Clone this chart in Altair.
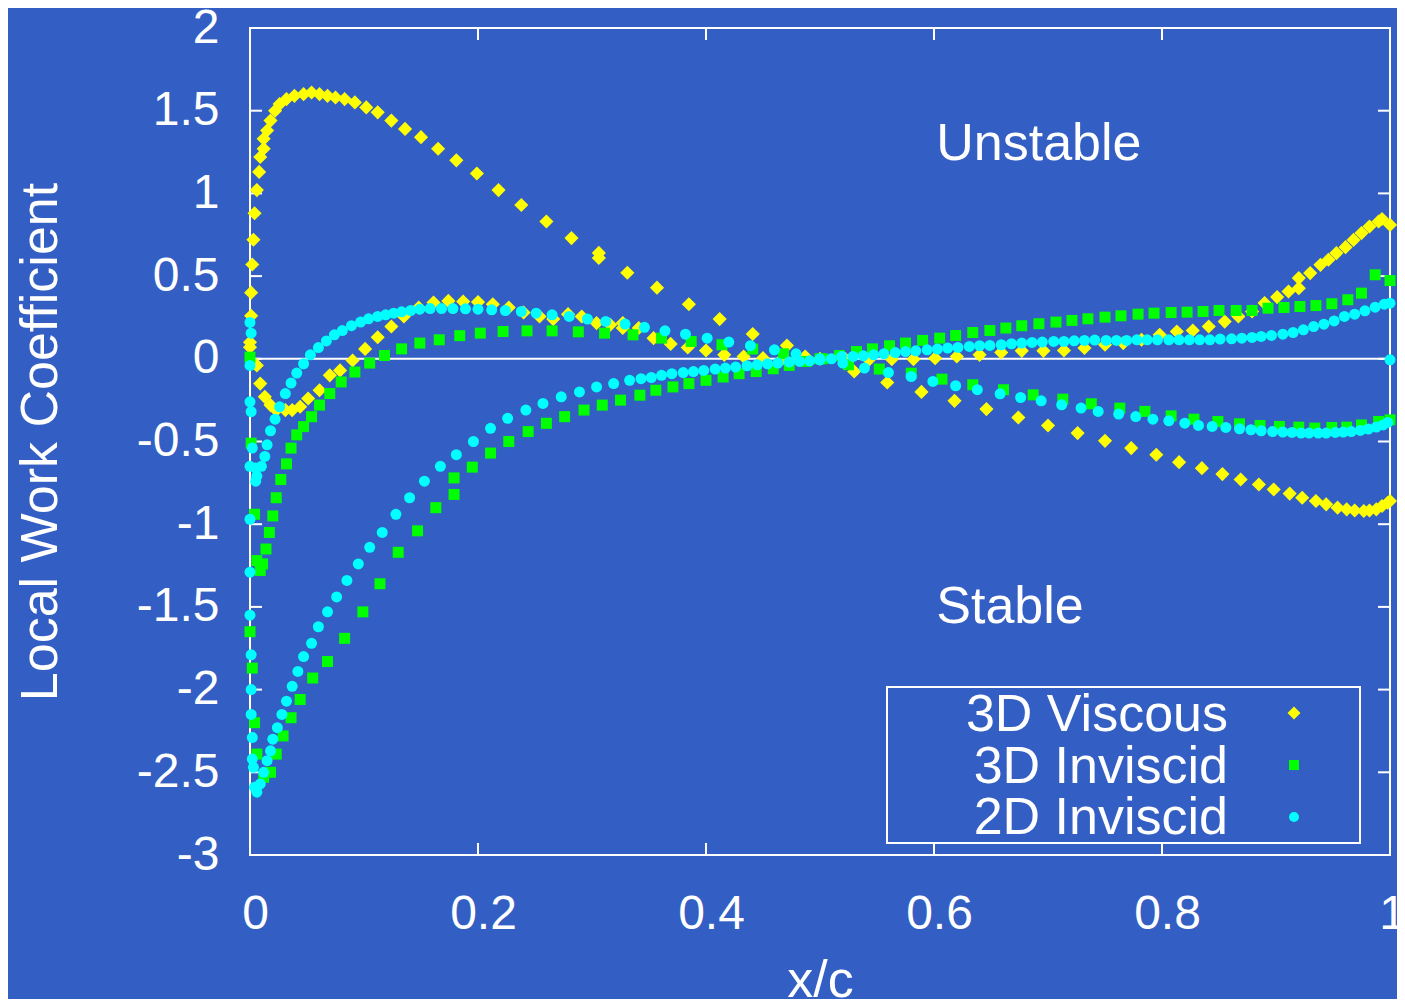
import altair as alt
import pandas as pd

FONT = "Liberation Sans"
BG = "#335ec3"
PLOT_W = 1140
PLOT_H = 827

# ---------------- data ----------------
# 3D Viscous (yellow diamonds)
visc_up_x = [0.0, 0.001, 0.001, 0.002, 0.003, 0.004, 0.006, 0.008, 0.009, 0.012, 0.012, 0.015, 0.018, 0.022, 0.026,
             0.032, 0.039, 0.047, 0.054, 0.061, 0.068, 0.075, 0.083, 0.092, 0.102, 0.112, 0.124, 0.136, 0.150, 0.165,
             0.181, 0.199, 0.218, 0.238, 0.260, 0.282, 0.306, 0.306, 0.331, 0.357, 0.385, 0.412, 0.441, 0.471, 0.500]
visc_up_y = [0.10, 0.26, 0.40, 0.57, 0.72, 0.88, 1.02, 1.13, 1.22, 1.27, 1.33, 1.38, 1.44, 1.50, 1.54,
             1.57, 1.59, 1.60, 1.61, 1.60, 1.59, 1.58, 1.57, 1.55, 1.52, 1.49, 1.44, 1.39, 1.34, 1.27,
             1.20, 1.12, 1.02, 0.93, 0.83, 0.73, 0.64, 0.61, 0.52, 0.43, 0.33, 0.24, 0.15, 0.08, 0.0]
visc_dn_x = [0.530, 0.559, 0.589, 0.618, 0.646, 0.674, 0.700, 0.726, 0.750, 0.773, 0.795, 0.815, 0.835, 0.853, 0.869,
             0.885, 0.898, 0.912, 0.923, 0.935, 0.944, 0.954, 0.962, 0.969, 0.977, 0.982, 0.988, 0.993, 0.998, 1.0]
visc_dn_y = [-0.077, -0.143, -0.20, -0.254, -0.304, -0.355, -0.403, -0.449, -0.496, -0.54, -0.58, -0.625, -0.661,
             -0.697, -0.73, -0.76, -0.79, -0.815, -0.84, -0.86, -0.88, -0.90, -0.91, -0.917, -0.92, -0.917, -0.91,
             -0.89, -0.87, -0.86]
visc_lo_x = [0.0, 0.006, 0.009, 0.013, 0.018, 0.023, 0.031, 0.037, 0.044, 0.051, 0.061, 0.070, 0.079, 0.090, 0.101,
             0.112, 0.124, 0.135, 0.148, 0.161, 0.174, 0.187, 0.200, 0.213, 0.227, 0.240, 0.254, 0.266, 0.279, 0.291,
             0.304, 0.316, 0.327, 0.327, 0.341, 0.354, 0.369, 0.384, 0.400, 0.416, 0.433, 0.450, 0.468, 0.487, 0.522]
visc_lo_y = [0.07, -0.04, -0.15, -0.23, -0.28, -0.31, -0.31, -0.31, -0.29, -0.24, -0.19, -0.10, -0.07, -0.01, 0.06,
             0.13, 0.195, 0.256, 0.31, 0.34, 0.35, 0.346, 0.343, 0.33, 0.31, 0.28, 0.256, 0.24, 0.27, 0.256,
             0.216, 0.206, 0.216, 0.186, 0.186, 0.125, 0.09, 0.068, 0.05, 0.024, 0.014, 0.004, 0.006, 0.014, 0.0]
visc_rt_x = [0.543, 0.563, 0.582, 0.601, 0.620, 0.640, 0.659, 0.677, 0.696, 0.714, 0.732, 0.750, 0.766, 0.782, 0.798,
             0.813, 0.827, 0.841, 0.855, 0.867, 0.879, 0.890, 0.901, 0.911, 0.920, 0.920, 0.930, 0.939, 0.946, 0.953,
             0.961, 0.968, 0.975, 0.982, 0.990, 0.993, 1.0]
visc_rt_y = [-0.006, -0.002, -0.002, 0.004, 0.014, 0.024, 0.038, 0.048, 0.048, 0.05, 0.065, 0.085, 0.095, 0.115, 0.145,
             0.165, 0.171, 0.195, 0.225, 0.256, 0.286, 0.337, 0.373, 0.407, 0.427, 0.488, 0.518, 0.568, 0.599, 0.639,
             0.675, 0.719, 0.76, 0.80, 0.83, 0.845, 0.81]

# 3D Inviscid (green squares)
inv3_edge_x = [0.0, 0.001, 0.004, 0.006, 0.011, 0.009, 0.0, 0.002, 0.004, 0.006, 0.012, 0.018]
inv3_edge_y = [0.01, -0.51, -0.94, -1.22, -1.24, -1.28, -1.65, -1.87, -2.2, -2.39, -2.53, -2.50]
inv3_a_x = [0.023, 0.029, 0.036, 0.044, 0.055, 0.068, 0.083, 0.099, 0.114, 0.130, 0.147, 0.163, 0.179, 0.179, 0.195,
            0.211, 0.227, 0.244, 0.260, 0.276, 0.293, 0.309, 0.325, 0.342, 0.356, 0.371, 0.385, 0.400, 0.415, 0.429,
            0.444, 0.459, 0.473, 0.488, 0.502, 0.517]
inv3_a_y = [-2.39, -2.28, -2.17, -2.06, -1.93, -1.83, -1.69, -1.53, -1.36, -1.17, -1.04, -0.90, -0.82, -0.72, -0.655,
            -0.57, -0.50, -0.44, -0.39, -0.35, -0.31, -0.28, -0.25, -0.22, -0.19, -0.17, -0.15, -0.13, -0.11, -0.09,
            -0.077, -0.06, -0.04, -0.016, 0.0, 0.02]
inv3_b_x = [0.532, 0.546, 0.561, 0.575, 0.590, 0.605, 0.619, 0.634, 0.649, 0.663, 0.677, 0.692, 0.707, 0.721, 0.735,
            0.750, 0.764, 0.779, 0.793, 0.808, 0.822, 0.836, 0.850, 0.865, 0.879, 0.893, 0.907, 0.921, 0.935, 0.949,
            0.963, 0.975, 0.987, 1.0]
inv3_b_y = [0.044, 0.06, 0.079, 0.095, 0.111, 0.125, 0.141, 0.159, 0.171, 0.186, 0.20, 0.212, 0.222, 0.232, 0.242,
            0.252, 0.26, 0.27, 0.276, 0.28, 0.282, 0.286, 0.292, 0.292, 0.292, 0.306, 0.31, 0.316, 0.322, 0.333,
            0.357, 0.397, 0.508, 0.473]
inv3_c_x = [0.014, 0.017, 0.020, 0.023, 0.027, 0.032, 0.036, 0.041, 0.047, 0.054, 0.061, 0.070, 0.080, 0.092, 0.105,
            0.118, 0.133, 0.149, 0.166, 0.184, 0.202, 0.222, 0.243, 0.265, 0.288, 0.311, 0.336, 0.361, 0.387, 0.414,
            0.441, 0.468, 0.5]
inv3_c_y = [-1.15, -1.05, -0.95, -0.84, -0.73, -0.635, -0.54, -0.46, -0.41, -0.35, -0.28, -0.21, -0.14, -0.08, -0.026,
            0.02, 0.06, 0.095, 0.115, 0.14, 0.155, 0.165, 0.169, 0.169, 0.163, 0.155, 0.145, 0.125, 0.105, 0.085,
            0.059, 0.03, 0.0]
inv3_d_x = [0.525, 0.552, 0.580, 0.607, 0.634, 0.661, 0.687, 0.713, 0.738, 0.763, 0.785, 0.808, 0.828, 0.849, 0.868,
            0.886, 0.903, 0.920, 0.934, 0.949, 0.962, 0.975, 0.990, 1.0]
inv3_d_y = [-0.036, -0.062, -0.087, -0.123, -0.157, -0.187, -0.218, -0.244, -0.272, -0.298, -0.318, -0.345, -0.365,
            -0.379, -0.393, -0.403, -0.409, -0.413, -0.419, -0.415, -0.413, -0.40, -0.379, -0.369]

# 2D Inviscid (cyan circles)
inv2_edge_x = [0.0, 0.001, 0.0, 0.0, 0.001, 0.002, 0.0, 0.0, 0.0, 0.0, 0.001, 0.001, 0.001, 0.002, 0.002, 0.003,
               0.004, 0.006]
inv2_edge_y = [0.22, 0.155, -0.04, -0.26, -0.32, -0.54, -0.65, -0.97, -1.29, -1.55, -1.79, -2.0, -2.15, -2.29,
               -2.42, -2.47, -2.59, -2.62]
inv2_a_x = [0.009, 0.012, 0.015, 0.018, 0.020, 0.024, 0.028, 0.032, 0.037, 0.042, 0.047, 0.054, 0.060, 0.068, 0.076,
            0.085, 0.095, 0.105, 0.116, 0.128, 0.140, 0.153, 0.167, 0.181, 0.196, 0.211, 0.226, 0.242, 0.257, 0.273,
            0.289, 0.304, 0.319, 0.333, 0.343, 0.352, 0.361, 0.370, 0.380, 0.389, 0.398, 0.408, 0.417, 0.426, 0.436,
            0.445, 0.454, 0.463, 0.473, 0.482, 0.491, 0.500, 0.510]
inv2_a_y = [-2.57, -2.50, -2.43, -2.37, -2.30, -2.23, -2.15, -2.07, -1.98, -1.89, -1.80, -1.72, -1.62, -1.53, -1.44,
            -1.34, -1.24, -1.14, -1.05, -0.94, -0.84, -0.74, -0.65, -0.58, -0.50, -0.42, -0.36, -0.31, -0.27, -0.23,
            -0.20, -0.17, -0.15, -0.13, -0.12, -0.113, -0.10, -0.09, -0.083, -0.077, -0.07, -0.062, -0.056, -0.05,
            -0.042, -0.036, -0.03, -0.026, -0.02, -0.016, -0.012, -0.006, 0.0]
inv2_b_x = [0.519, 0.529, 0.538, 0.547, 0.556, 0.566, 0.575, 0.584, 0.594, 0.603, 0.612, 0.621, 0.631, 0.640, 0.649,
            0.659, 0.668, 0.677, 0.686, 0.695, 0.705, 0.714, 0.723, 0.732, 0.741, 0.751, 0.760, 0.769, 0.778, 0.787,
            0.796, 0.806, 0.815, 0.824, 0.833, 0.842, 0.851, 0.861, 0.870, 0.879, 0.887, 0.896, 0.906, 0.915, 0.924,
            0.933, 0.942, 0.951, 0.960, 0.969, 0.978, 0.987, 0.995, 1.0]
inv2_b_y = [0.014, 0.014, 0.018, 0.024, 0.030, 0.038, 0.044, 0.048, 0.054, 0.059, 0.065, 0.069, 0.075, 0.079, 0.081,
            0.085, 0.091, 0.095, 0.099, 0.101, 0.105, 0.105, 0.109, 0.111, 0.113, 0.111, 0.111, 0.111, 0.115, 0.115,
            0.115, 0.115, 0.115, 0.115, 0.115, 0.115, 0.119, 0.121, 0.125, 0.129, 0.135, 0.141, 0.149, 0.159, 0.175,
            0.195, 0.209, 0.229, 0.256, 0.270, 0.290, 0.312, 0.330, 0.336]
inv2_c_x = [0.005, 0.006, 0.005, 0.010, 0.013, 0.015, 0.018, 0.022, 0.026, 0.031, 0.036, 0.041, 0.047, 0.053, 0.060,
            0.067, 0.074, 0.081, 0.089, 0.097, 0.104, 0.112, 0.119, 0.126, 0.133, 0.141, 0.149, 0.158, 0.168, 0.178,
            0.189, 0.200, 0.212, 0.224, 0.238, 0.251, 0.265, 0.280, 0.296, 0.312, 0.329, 0.346, 0.364, 0.382, 0.401,
            0.420, 0.439, 0.460, 0.479, 0.500]
inv2_c_y = [-0.66, -0.71, -0.74, -0.65, -0.59, -0.52, -0.435, -0.365, -0.29, -0.21, -0.147, -0.086, -0.03, 0.024, 0.068,
            0.108, 0.145, 0.171, 0.20, 0.222, 0.242, 0.256, 0.266, 0.276, 0.284, 0.292, 0.30, 0.304, 0.304, 0.304,
            0.302, 0.30, 0.296, 0.292, 0.286, 0.276, 0.266, 0.256, 0.24, 0.226, 0.21, 0.19, 0.169, 0.149, 0.125,
            0.101, 0.079, 0.054, 0.03, 0.0]
inv2_d_x = [0.520, 0.539, 0.560, 0.580, 0.599, 0.619, 0.638, 0.658, 0.676, 0.694, 0.712, 0.729, 0.744, 0.762, 0.777,
            0.792, 0.806, 0.820, 0.832, 0.844, 0.856, 0.868, 0.878, 0.887, 0.897, 0.906, 0.914, 0.922, 0.929, 0.937,
            0.944, 0.952, 0.959, 0.966, 0.974, 0.981, 0.988, 0.994, 0.998, 1.0]
inv2_d_y = [-0.026, -0.056, -0.083, -0.107, -0.137, -0.163, -0.187, -0.212, -0.234, -0.254, -0.278, -0.298, -0.318,
            -0.334, -0.349, -0.365, -0.375, -0.389, -0.403, -0.409, -0.415, -0.423, -0.429, -0.435, -0.44, -0.443,
            -0.445, -0.449, -0.449, -0.449, -0.449, -0.445, -0.443, -0.44, -0.433, -0.425, -0.413, -0.40, -0.385,
            -0.006]

series_names = ["3D Viscous", "3D Inviscid", "2D Inviscid"]
series_colors = ["#ffff00", "#00ff00", "#00ffff"]
series_shapes = ["diamond", "square", "circle"]

x_ticks = [0, 0.2, 0.4, 0.6, 0.8, 1]
y_ticks = [-3, -2.5, -2, -1.5, -1, -0.5, 0, 0.5, 1, 1.5, 2]

annot_text = ["Unstable", "Stable"]
annot_x = [0.602, 0.602]
annot_y = [1.20, -1.595]

# ---------------- build ----------------
def frame(pairs):
    xs, ys = [], []
    for a, b in pairs:
        xs += a
        ys += b
    return pd.DataFrame({"x": xs, "y": ys})

df_visc = frame([(visc_up_x, visc_up_y), (visc_dn_x, visc_dn_y), (visc_lo_x, visc_lo_y), (visc_rt_x, visc_rt_y)])
df_inv3 = frame([(inv3_edge_x, inv3_edge_y), (inv3_a_x, inv3_a_y), (inv3_b_x, inv3_b_y),
                 (inv3_c_x, inv3_c_y), (inv3_d_x, inv3_d_y)])
df_inv2 = frame([(inv2_edge_x, inv2_edge_y), (inv2_a_x, inv2_a_y), (inv2_b_x, inv2_b_y),
                 (inv2_c_x, inv2_c_y), (inv2_d_x, inv2_d_y)])

xscale = alt.Scale(domain=[0, 1], nice=False, zero=False)
yscale = alt.Scale(domain=[-3, 2], nice=False, zero=False)

xaxis = alt.Axis(values=x_ticks, labelExpr="datum.value + ''", ticks=False, tickSize=0, domain=False, grid=False,
                 labelFont=FONT, labelFontSize=48, labelColor="white", labelPadding=35,
                 labelOffset={"condition": {"test": "datum.value == 1", "value": 2}, "value": 5},
                 labelFlush=False, labelOverlap=False,
                 title="x/c", titleFont=FONT, titleFontSize=52, titleFontWeight="normal", titleColor="white",
                 titleX=PLOT_W / 2, titleY=141, titleAlign="center", titleBaseline="alphabetic")
yaxis = alt.Axis(values=y_ticks, labelExpr="datum.value + ''", ticks=False, tickSize=0, domain=False, grid=False,
                 labelFont=FONT, labelFontSize=48, labelColor="white", labelPadding=31,
                 labelFlush=False, labelOverlap=False,
                 title="Local Work Coefficient", titleFont=FONT, titleFontSize=52, titleFontWeight="normal",
                 titleColor="white", titleAngle=270, titleX=-194, titleY=PLOT_H / 2,
                 titleAlign="center", titleBaseline="alphabetic")

X = alt.X("x:Q", scale=xscale, axis=xaxis)
Y = alt.Y("y:Q", scale=yscale, axis=yaxis)

layers = []
# zero line
layers.append(alt.Chart(pd.DataFrame({"y": [0]})).mark_rule(color="white", strokeWidth=2)
              .encode(y=Y, x=alt.value(0), x2=alt.value(PLOT_W)))
# inward ticks on all four sides
xt = pd.DataFrame({"x": x_ticks})
yt = pd.DataFrame({"y": y_ticks})
layers.append(alt.Chart(xt).mark_rule(color="white", strokeWidth=2)
              .encode(x=X, y=alt.value(PLOT_H), y2=alt.value(PLOT_H - 12)))
layers.append(alt.Chart(xt).mark_rule(color="white", strokeWidth=2)
              .encode(x=X, y=alt.value(0), y2=alt.value(12)))
layers.append(alt.Chart(yt).mark_rule(color="white", strokeWidth=2)
              .encode(y=Y, x=alt.value(0), x2=alt.value(12)))
layers.append(alt.Chart(yt).mark_rule(color="white", strokeWidth=2)
              .encode(y=Y, x=alt.value(PLOT_W - 12), x2=alt.value(PLOT_W)))

# data points
sizes = [200, 121, 121]
for df, col, shp, sz in zip([df_visc, df_inv3, df_inv2], series_colors, series_shapes, sizes):
    layers.append(alt.Chart(df).mark_point(shape=shp, filled=True, color=col, size=sz, opacity=1, strokeWidth=0)
                  .encode(x=X, y=Y))

# annotations
ann = pd.DataFrame({"x": annot_x, "y": annot_y, "t": annot_text})
layers.append(alt.Chart(ann).mark_text(align="left", baseline="alphabetic", font=FONT, fontSize=52, color="white")
              .encode(x=X, y=Y, text="t:N"))

# legend box (label then symbol, as in the original)
one = pd.DataFrame({"a": [0]})
layers.append(alt.Chart(one).mark_rect(fillOpacity=0, stroke="white", strokeWidth=2)
              .encode(x=alt.value(637), x2=alt.value(1110), y=alt.value(659), y2=alt.value(815)))
leg_sizes = [170, 100, 100]
for i, (name, col, shp, sz) in enumerate(zip(series_names, series_colors, series_shapes, leg_sizes)):
    row = pd.DataFrame({"label": [name]})
    layers.append(alt.Chart(row).mark_text(align="right", baseline="alphabetic", font=FONT, fontSize=52, color="white")
                  .encode(text="label:N", x=alt.value(978), y=alt.value(703 + 51.5 * i)))
    layers.append(alt.Chart(row).mark_point(shape=shp, filled=True, color=col, size=sz, opacity=1, strokeWidth=0)
                  .encode(x=alt.value(1044), y=alt.value(685 + 52 * i)))

chart = (alt.layer(*layers)
         .properties(width=PLOT_W, height=PLOT_H, background=BG,
                     autosize=alt.AutoSizeParams(type="none"),
                     padding={"left": 242, "top": 20, "right": 7, "bottom": 144})
         .configure_view(stroke="white", strokeWidth=2, fill=BG))

chart.save("out.html", embed_options={"renderer": "svg", "actions": False})
